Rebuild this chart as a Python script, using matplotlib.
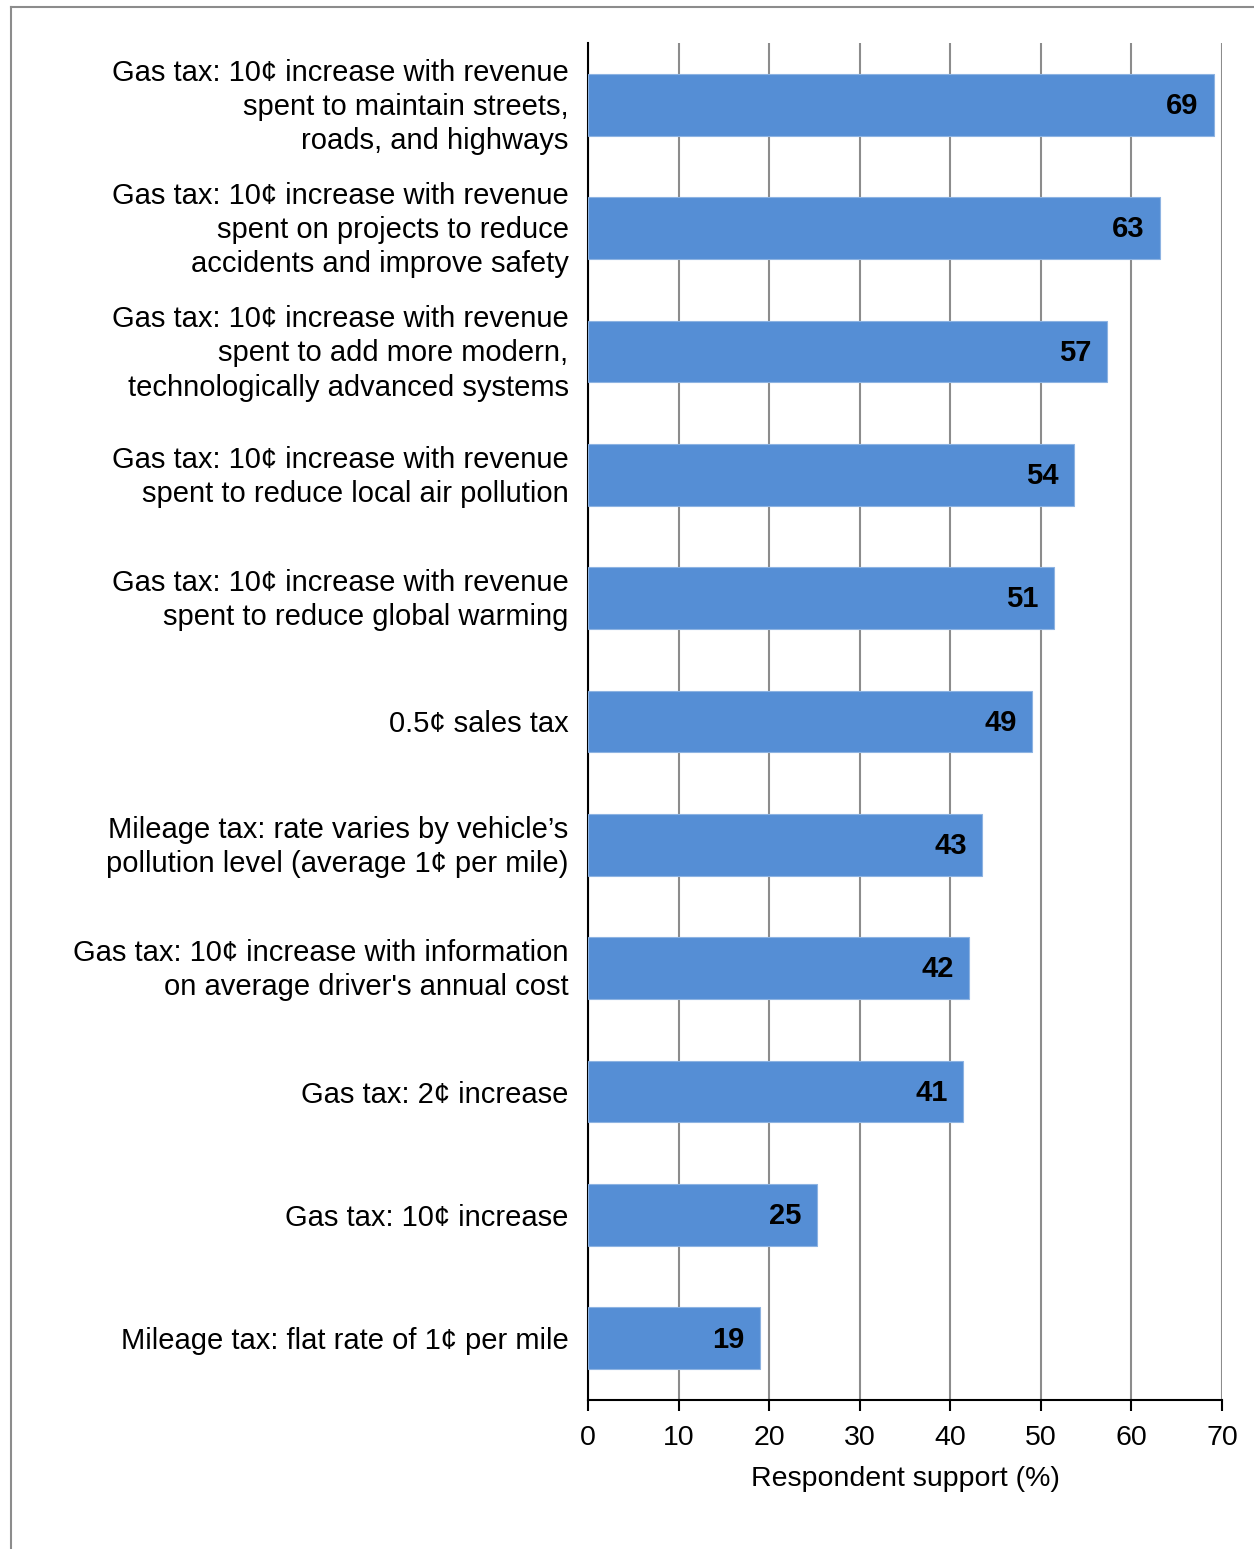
import matplotlib
matplotlib.use("Agg")
import matplotlib.pyplot as plt
from matplotlib.lines import Line2D
from matplotlib.transforms import ScaledTranslation

categories = [
    "Gas tax: 10\u00a2 increase with revenue\nspent to maintain streets,\nroads, and highways",
    "Gas tax: 10\u00a2 increase with revenue\nspent on projects to reduce\naccidents and improve safety",
    "Gas tax: 10\u00a2 increase with revenue\nspent to add more modern,\ntechnologically advanced systems",
    "Gas tax: 10\u00a2 increase with revenue\nspent to reduce local air pollution",
    "Gas tax: 10\u00a2 increase with revenue\nspent to reduce global warming",
    "0.5\u00a2 sales tax",
    "Mileage tax: rate varies by vehicle\u2019s\npollution level (average 1\u00a2 per mile)",
    "Gas tax: 10\u00a2 increase with information\non average driver's annual cost",
    "Gas tax: 2\u00a2 increase",
    "Gas tax: 10\u00a2 increase",
    "Mileage tax: flat rate of 1\u00a2 per mile",
]
values = [69.1, 63.1, 57.3, 53.7, 51.4, 49.0, 43.5, 42.1, 41.4, 25.3, 19.0]
value_labels = ["69", "63", "57", "54", "51", "49", "43", "42", "41", "25", "19"]
xticks = [0, 10, 20, 30, 40, 50, 60, 70]
xlabel = "Respondent support (%)"

plt.rcParams['font.family'] = ['Liberation Sans', 'DejaVu Sans']

fig = plt.figure(figsize=(12.54, 15.49), dpi=100)
W, H = 1254, 1549
left, right, top, bottom = 588, 1222, 43, 1400
ax = fig.add_axes([left / W, 1 - bottom / H, (right - left) / W, (bottom - top) / H])

ypos = list(range(len(categories)))
ax.barh(ypos, values, height=0.5, color="#558ED5", edgecolor="#8DB3E2", linewidth=0.8, zorder=3)
for y, v, lab in zip(ypos, values, value_labels):
    ax.text(v - 1.7, y + 0.01, lab, ha="right", va="center", fontsize=21, fontweight="bold",
            color="black", zorder=4)

ax.set_ylim(len(categories) - 0.5, -0.5)
ax.set_xlim(0, 70)
ax.set_xticks(xticks)
ax.set_xticklabels([str(t) for t in xticks], fontsize=20.5)
ax.set_yticks(ypos)
ax.set_yticklabels(categories, fontsize=21, ha="right", linespacing=1.28)
ax.tick_params(axis="y", length=0, pad=14)
ax.tick_params(axis="x", length=8, width=1.5, color="black", pad=10)
ax.xaxis.grid(True, color="#8C8C8C", linewidth=1.5, zorder=0)
ax.set_axisbelow(True)
for s in ["top", "right"]:
    ax.spines[s].set_visible(False)
ax.spines["left"].set_linewidth(1.5)
ax.spines["bottom"].set_linewidth(1.5)
ax.set_xlabel(xlabel, fontsize=20.5, labelpad=11)

# nudge multi-line labels up slightly to centre them on the bars
shift = ScaledTranslation(0, 4 / 100, fig.dpi_scale_trans)
for lbl in ax.get_yticklabels():
    if "\n" in lbl.get_text():
        lbl.set_transform(lbl.get_transform() + shift)

# outer border (top and left)
fig.add_artist(Line2D([10.5 / W, 10.5 / W], [0, 1 - 7 / H], transform=fig.transFigure,
                      color="#8C8C8C", linewidth=1.5))
fig.add_artist(Line2D([10.5 / W, 1], [1 - 7 / H, 1 - 7 / H], transform=fig.transFigure,
                      color="#8C8C8C", linewidth=1.5))

fig.savefig("out.png", dpi=100, facecolor="white")
